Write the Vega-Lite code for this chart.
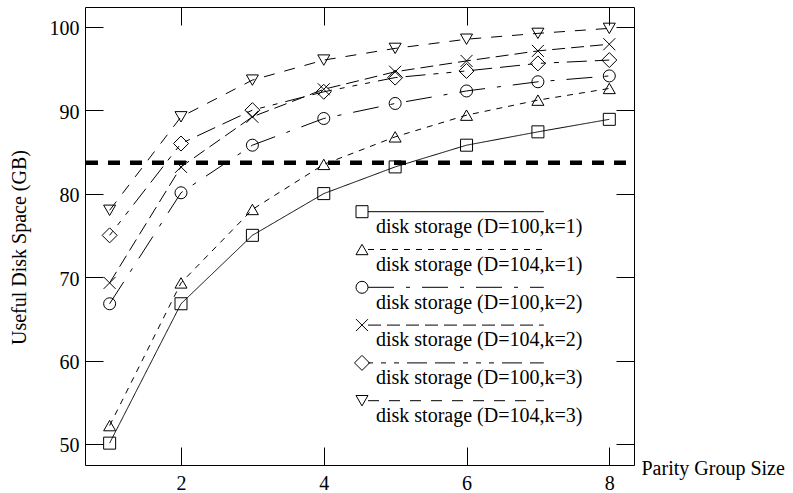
{
  "$schema": "https://vega.github.io/schema/vega-lite/v6.json",
  "width": 549,
  "height": 458,
  "autosize": {"type": "none"},
  "padding": {"left": 85, "top": 7, "right": 159, "bottom": 28},
  "background": "white",
  "config": {
    "font": "Liberation Serif, Times New Roman, serif",
    "view": {"stroke": "black", "strokeWidth": 1},
    "axis": {
      "grid": false,
      "domain": false,
      "tickColor": "black",
      "tickSize": -18,
      "tickWidth": 1,
      "labelFont": "Liberation Serif, Times New Roman, serif",
      "labelFontSize": 20,
      "labelColor": "black",
      "titleFont": "Liberation Serif, Times New Roman, serif",
      "titleFontSize": 20,
      "titleFontWeight": "normal",
      "titleColor": "black"
    }
  },
  "datasets": {
    "series": [
      {"x": 1, "y": 50.1, "series": "disk storage (D=100,k=1)"},
      {"x": 2, "y": 66.8, "series": "disk storage (D=100,k=1)"},
      {"x": 3, "y": 75.0, "series": "disk storage (D=100,k=1)"},
      {"x": 4, "y": 80.0, "series": "disk storage (D=100,k=1)"},
      {"x": 5, "y": 83.2, "series": "disk storage (D=100,k=1)"},
      {"x": 6, "y": 85.8, "series": "disk storage (D=100,k=1)"},
      {"x": 7, "y": 87.4, "series": "disk storage (D=100,k=1)"},
      {"x": 8, "y": 88.9, "series": "disk storage (D=100,k=1)"},
      {"x": 1, "y": 52.2, "series": "disk storage (D=104,k=1)"},
      {"x": 2, "y": 69.3, "series": "disk storage (D=104,k=1)"},
      {"x": 3, "y": 78.1, "series": "disk storage (D=104,k=1)"},
      {"x": 4, "y": 83.5, "series": "disk storage (D=104,k=1)"},
      {"x": 5, "y": 86.8, "series": "disk storage (D=104,k=1)"},
      {"x": 6, "y": 89.4, "series": "disk storage (D=104,k=1)"},
      {"x": 7, "y": 91.2, "series": "disk storage (D=104,k=1)"},
      {"x": 8, "y": 92.6, "series": "disk storage (D=104,k=1)"},
      {"x": 1, "y": 66.8, "series": "disk storage (D=100,k=2)"},
      {"x": 2, "y": 80.1, "series": "disk storage (D=100,k=2)"},
      {"x": 3, "y": 85.8, "series": "disk storage (D=100,k=2)"},
      {"x": 4, "y": 89.0, "series": "disk storage (D=100,k=2)"},
      {"x": 5, "y": 90.8, "series": "disk storage (D=100,k=2)"},
      {"x": 6, "y": 92.3, "series": "disk storage (D=100,k=2)"},
      {"x": 7, "y": 93.4, "series": "disk storage (D=100,k=2)"},
      {"x": 8, "y": 94.1, "series": "disk storage (D=100,k=2)"},
      {"x": 1, "y": 69.3, "series": "disk storage (D=104,k=2)"},
      {"x": 2, "y": 83.2, "series": "disk storage (D=104,k=2)"},
      {"x": 3, "y": 89.2, "series": "disk storage (D=104,k=2)"},
      {"x": 4, "y": 92.5, "series": "disk storage (D=104,k=2)"},
      {"x": 5, "y": 94.6, "series": "disk storage (D=104,k=2)"},
      {"x": 6, "y": 95.9, "series": "disk storage (D=104,k=2)"},
      {"x": 7, "y": 97.1, "series": "disk storage (D=104,k=2)"},
      {"x": 8, "y": 97.9, "series": "disk storage (D=104,k=2)"},
      {"x": 1, "y": 75.0, "series": "disk storage (D=100,k=3)"},
      {"x": 2, "y": 86.0, "series": "disk storage (D=100,k=3)"},
      {"x": 3, "y": 90.0, "series": "disk storage (D=100,k=3)"},
      {"x": 4, "y": 92.2, "series": "disk storage (D=100,k=3)"},
      {"x": 5, "y": 93.9, "series": "disk storage (D=100,k=3)"},
      {"x": 6, "y": 94.7, "series": "disk storage (D=100,k=3)"},
      {"x": 7, "y": 95.6, "series": "disk storage (D=100,k=3)"},
      {"x": 8, "y": 96.0, "series": "disk storage (D=100,k=3)"},
      {"x": 1, "y": 78.0, "series": "disk storage (D=104,k=3)"},
      {"x": 2, "y": 89.2, "series": "disk storage (D=104,k=3)"},
      {"x": 3, "y": 93.6, "series": "disk storage (D=104,k=3)"},
      {"x": 4, "y": 96.0, "series": "disk storage (D=104,k=3)"},
      {"x": 5, "y": 97.4, "series": "disk storage (D=104,k=3)"},
      {"x": 6, "y": 98.5, "series": "disk storage (D=104,k=3)"},
      {"x": 7, "y": 99.2, "series": "disk storage (D=104,k=3)"},
      {"x": 8, "y": 99.8, "series": "disk storage (D=104,k=3)"}
    ],
    "threshold": [{"value": 83.7}]
  },
  "resolve": {"axis": {"x": "independent", "y": "independent"}},
  "layer": [
    {
      "data": {"name": "threshold"},
      "mark": {"type": "rule", "color": "black", "strokeWidth": 4.5, "strokeDash": [12, 10], "strokeDashOffset": 14},
      "encoding": {
        "y": {"field": "value", "type": "quantitative", "scale": {"domain": [47.48, 102.36], "nice": false, "zero": false}, "axis": null}
      }
    },
    {
      "data": {"name": "series"},
      "mark": {"type": "line", "color": "black", "strokeWidth": 1},
      "encoding": {
        "x": {
          "field": "x", "type": "quantitative",
          "scale": {"domain": [0.655, 8.346], "nice": false, "zero": false},
          "axis": {"orient": "bottom", "values": [2, 4, 6, 8], "labelPadding": 26, "title": "Parity Group Size", "titleAlign": "left", "titleBaseline": "alphabetic", "titleX": 556, "titleY": 9.5}
        },
        "y": {
          "field": "y", "type": "quantitative",
          "scale": {"domain": [47.48, 102.36], "nice": false, "zero": false},
          "axis": {"orient": "left", "values": [50, 60, 70, 80, 90, 100], "labelPadding": 24, "labelOffset": 2, "title": "Useful Disk Space (GB)", "titleBaseline": "middle", "titleAlign": "center", "titleX": -66, "titleY": 240}
        },
        "strokeDash": {
          "field": "series", "type": "nominal",
          "sort": ["disk storage (D=100,k=1)", "disk storage (D=104,k=1)", "disk storage (D=100,k=2)", "disk storage (D=104,k=2)", "disk storage (D=100,k=3)", "disk storage (D=104,k=3)"],
          "scale": {"range": [[1, 0], [6, 6], [26, 12, 4, 12], [13, 6], [5, 8, 5, 8, 5, 8, 20, 8, 20, 8], [11, 10]]},
          "legend": {
            "orient": "none", "legendX": 267, "legendY": 203, "title": null, "padding": 0,
            "symbolType": "M1,-2.55H30.3", "symbolSize": 144, "symbolStrokeWidth": 1, "symbolStrokeColor": "black", "symbolFillColor": "transparent",
            "labelFont": "Liberation Serif, Times New Roman, serif", "labelFontSize": 20, "labelColor": "black", "labelOffset": 4, "labelLimit": 400,
            "labelBaseline": "middle", "clipHeight": 34, "rowPadding": 3.8
          }
        }
      }
    },
    {
      "data": {"name": "series"},
      "mark": {"type": "point", "filled": false, "color": "black", "size": 144, "strokeWidth": 1, "opacity": 1},
      "encoding": {
        "x": {
          "field": "x", "type": "quantitative",
          "scale": {"domain": [0.655, 8.346], "nice": false, "zero": false},
          "axis": {"orient": "top", "values": [2, 4, 6, 8], "labels": false, "title": null}
        },
        "y": {
          "field": "y", "type": "quantitative",
          "scale": {"domain": [47.48, 102.36], "nice": false, "zero": false},
          "axis": {"orient": "right", "values": [50, 60, 70, 80, 90, 100], "labels": false, "title": null}
        },
        "shape": {
          "field": "series", "type": "nominal",
          "scale": {
            "domain": ["disk storage (D=100,k=1)", "disk storage (D=104,k=1)", "disk storage (D=100,k=2)", "disk storage (D=104,k=2)", "disk storage (D=100,k=3)", "disk storage (D=104,k=3)"],
            "range": ["square", "triangle-up", "circle", "M-1,-1L1,1M-1,1L1,-1", "M-1.25,0L0,-1.25L1.25,0L0,1.25Z", "triangle-down"]
          },
          "legend": {
            "orient": "none", "legendX": 267, "legendY": 187.7, "title": null, "padding": 0,
            "symbolSize": 144, "symbolStrokeWidth": 1, "symbolStrokeColor": "black", "symbolFillColor": "transparent",
            "labelFont": "Liberation Serif, Times New Roman, serif", "labelFontSize": 20, "labelExpr": "''", "labelOffset": 0, "labelLimit": 400,
            "labelBaseline": "middle", "clipHeight": 34, "rowPadding": 3.8
          }
        }
      }
    }
  ]
}
